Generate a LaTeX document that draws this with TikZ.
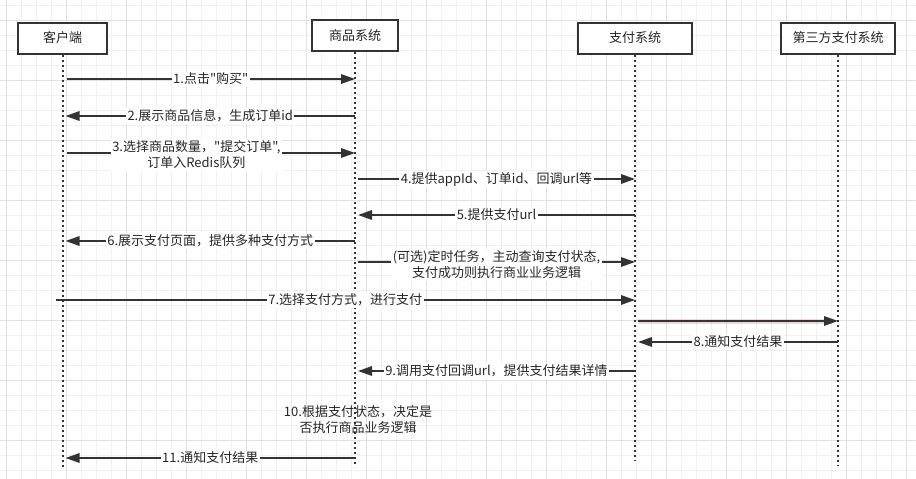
\documentclass[tikz,border=0pt]{standalone}
\usepackage{fontspec}
\setmainfont{Noto Sans CJK SC}[Ligatures=TeXOff]
\usetikzlibrary{arrows.meta,calc}
\definecolor{ink}{HTML}{333333}
\definecolor{txt}{HTML}{262626}
\definecolor{gridminor}{HTML}{F1F1F1}
\definecolor{gridmajor}{HTML}{E1E1E1}
\begin{document}
\begin{tikzpicture}[x=1pt,y=-1pt,
  font=\fontsize{13}{16}\selectfont,
  actor/.style={draw=ink, line width=2pt, fill=white, minimum height=31pt, inner sep=0pt, text=txt},
  life/.style={draw=ink, line width=2pt, dash pattern=on 2pt off 3pt},
  msg/.style={draw=ink, line width=1.6pt, -{Triangle[length=14pt,width=9.5pt]}},
  lbl/.style={fill=white, inner sep=1.5pt, text=txt, align=center},
  glow/.style={line width=5pt, draw=red!55!black, opacity=0.15}]
\useasboundingbox (0,0) rectangle (916,479);
\fill[white] (0,0) rectangle (916,479);
% grid
\foreach \x in {6.7,21.7,...,916} \draw[gridminor, line width=1pt] (\x,0) -- (\x,479);
\foreach \y in {5,20,...,479} \draw[gridminor, line width=1pt] (0,\y) -- (916,\y);
\foreach \x in {6.7,66.7,...,916} \draw[gridmajor, line width=1pt] (\x,0) -- (\x,479);
\foreach \y in {20,80,...,479} \draw[gridmajor, line width=1pt] (0,\y) -- (916,\y);

% actors
\node[actor, minimum width=89pt] (c) at (62.5,38) {客户端};
\node[actor, minimum width=86pt] (g) at (355,35.5) {商品系统};
\node[actor, minimum width=114pt] (p) at (635,38) {支付系统};
\node[actor, minimum width=114pt] (t) at (838,38) {第三方支付系统};

% lifelines
\coordinate (cE) at (c.south |- 0,468);
\coordinate (gE) at (g.south |- 0,467);
\coordinate (pE) at (p.south |- 0,460);
\coordinate (tE) at (t.south |- 0,465);
\draw[life] (c.south) -- (cE);
\draw[life] (g.south) -- (gE);
\draw[life] (p.south) -- (pE);
\draw[life] (t.south) -- (tE);

% messages
\draw[msg] ([xshift=4pt]c.south |- 0,79) -- node[lbl] (m1) {1.点击"购买"} (g.south |- 0,79);
\draw[msg] (g.south |- 0,116) -- node[lbl] (m2) {2.展示商品信息，生成订单id} ([xshift=3pt]c.south |- 0,116);
\draw[msg] ([xshift=4pt]c.south |- 0,153) -- node[lbl, pos=0.45, yshift=-2pt] (m3) {3.选择商品数量，"提交订单",\\订单入Redis队列} (g.south |- 0,153);
\draw[msg] ([xshift=3pt]g.south |- 0,179) -- node[lbl] (m4) {4.提供appId、订单id、回调url等} (p.south |- 0,179);
\draw[msg] (p.south |- 0,215) -- node[lbl] (m5) {5.提供支付url} ([xshift=3pt]g.south |- 0,215);
\draw[msg] (g.south |- 0,241) -- node[lbl] (m6) {6.展示支付页面，提供多种支付方式} ([xshift=3pt]c.south |- 0,241);
\draw[msg] ([xshift=3pt]g.south |- 0,262) -- node[lbl, yshift=-3pt] (m7) {(可选)定时任务，主动查询支付状态,\\支付成功则执行商业业务逻辑} (p.south |- 0,262);
\draw[msg] ([xshift=-7pt]c.south |- 0,300) -- node[lbl] (m8) {7.选择支付方式，进行支付} (p.south |- 0,300);
\draw[glow] ([xshift=3pt]p.south |- 0,321) -- ([xshift=-6pt]t.south |- 0,321);
\draw[msg] ([xshift=3pt]p.south |- 0,321) -- (t.south |- 0,321);
\draw[msg] (t.south |- 0,342) -- node[lbl] (m9) {8.通知支付结果} ([xshift=3pt]p.south |- 0,342);
\draw[msg] (p.south |- 0,371) -- node[lbl] (m10) {9.调用支付回调url，提供支付结果详情} ([xshift=3pt]g.south |- 0,371);
\node[text=txt, align=center] (n10) at (358,420) {10.根据支付状态，决定是\\否执行商品业务逻辑};
\draw[msg] (g.south |- 0,458) -- node[lbl] (m11) {11.通知支付结果} ([xshift=3pt]c.south |- 0,458);
\end{tikzpicture}
\end{document}
